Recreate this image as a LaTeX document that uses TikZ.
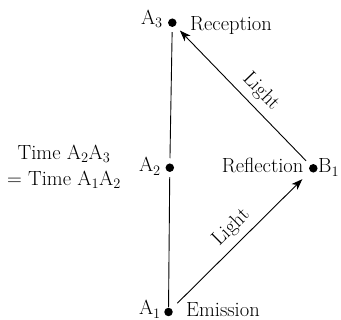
\documentclass[tikz,border=0pt]{standalone}
\usetikzlibrary{arrows.meta}
\begin{document}
\begin{tikzpicture}[x=1pt,y=-1pt,
  every node/.style={font=\fontsize{20.5}{26}\selectfont, inner sep=0pt},
  dot/.style={circle, fill=black, minimum size=8.5pt, inner sep=0pt},
  wire/.style={line width=0.9pt},
  ray/.style={line width=0.9pt, -{Stealth[length=11pt,width=8pt,inset=3pt]}}
]
\useasboundingbox (0,0) rectangle (341,320);
% points
\node[dot] (a3) at (172.3,22.7) {};
\node[dot] (a2) at (169.8,167.7) {};
\node[dot] (a1) at (168.5,312) {};
\node[dot] (b1) at (313.3,168.3) {};
% labels
\node[anchor=base east] (la3) at (163,24.5) {A$_3$};
\node[anchor=base west] (rec) at (190,30.5) {Reception};
\node[anchor=base east] (la2) at (161,172) {A$_2$};
\node[anchor=base east] (la1) at (161,315) {A$_1$};
\node[anchor=base west] (emi) at (186,317) {Emission};
\node[anchor=base east] (ref) at (303.5,173) {Reflection};
\node[anchor=base west] (lb1) at (318,173) {B$_1$};
\node[align=center] (time) at (64,166.5) {Time A$_2$A$_3$\\= Time A$_1$A$_2$};
% connectors
\draw[wire, shorten <=5pt, shorten >=5pt] (a3) -- (a2);
\draw[wire, shorten <=5pt, shorten >=0.5pt] (a2) -- (a1);
\draw[ray, shorten <=8pt, shorten >=11pt] (a1) -- node[pos=0.51, sloped, above=6pt] (l1) {Light} (b1);
\draw[ray, shorten <=6pt, shorten >=6.5pt] (b1) -- node[pos=0.45, sloped, above=6pt] (l2) {Light} (a3);
\end{tikzpicture}
\end{document}
